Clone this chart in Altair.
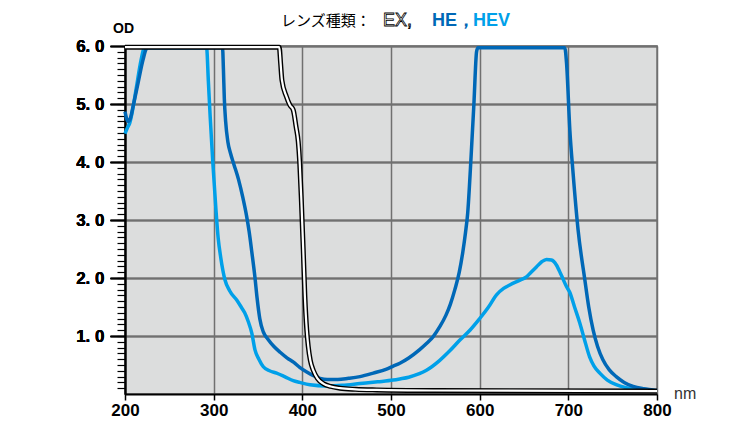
import altair as alt
import pandas as pd

# ---- data ----
ex_nm = [200, 374, 375.5, 377, 382, 386, 389.7, 393, 395.4, 397, 399, 401, 402.9, 405, 406.7,
         409, 412.3, 417, 423.6, 432, 442.4, 460, 483.8, 550, 800]
ex_od = [5.98, 5.98, 5.7, 5.41, 5.13, 4.98, 4.9, 4.6, 4.35, 4.0, 3.3, 2.5, 1.68, 1.1, 0.82,
         0.58, 0.41, 0.27, 0.18, 0.13, 0.10, 0.08, 0.07, 0.06, 0.05]

he_nm = [200, 203.4, 206, 209, 214.7, 220.3, 224, 226, 310, 311, 312, 313.5, 316, 319, 323, 328,
         333, 337, 340, 343, 346.5, 349, 352, 356, 361, 368, 375, 383, 390, 397, 405, 412, 420,
         428, 440, 452, 465, 480, 495, 502.5, 510, 520, 532, 540, 547.6, 555, 562, 567, 572,
         577, 581, 584, 586.5, 590, 593.5, 596.5, 598, 696, 698, 701.7, 705.4, 711,
         718.6, 723, 728, 733, 739, 746, 754, 763, 773, 785, 795.6, 800]
he_od = [4.87, 4.70, 4.75, 4.95, 5.36, 5.76, 5.95, 5.97, 5.97, 5.6, 5.1, 4.7, 4.35, 4.15, 3.95, 3.7,
         3.38, 3.08, 2.8, 2.45, 2.02, 1.65, 1.3, 1.07, 0.95, 0.82, 0.72, 0.62, 0.55, 0.46, 0.38, 0.32, 0.27,
         0.25, 0.25, 0.27, 0.30, 0.36, 0.43, 0.48, 0.53, 0.62, 0.76, 0.87, 0.99, 1.16, 1.36, 1.55, 1.8,
         2.1, 2.45, 2.78, 3.12, 4.0, 5.0, 5.9, 5.97, 5.97, 5.7, 4.55, 3.8, 2.83,
         1.97, 1.5, 1.10, 0.82, 0.59, 0.42, 0.30, 0.20, 0.13, 0.09, 0.07, 0.06]

hev_nm = [200, 203, 205.3, 208, 213, 218, 222, 292, 294, 296, 299, 302.6, 305, 308, 312.7, 318,
          326, 331, 335, 339, 343, 346.6, 351, 356, 363, 371, 380, 389.7, 397, 408.6, 427, 445,
          465, 485, 502.5, 510, 520, 532, 540, 555, 566, 577.7, 589, 600, 610, 619, 627, 634, 645,
          652.8, 658, 664, 670, 675.4, 681, 686.7, 692, 698, 701.7, 707, 713, 718, 724, 729,
          735.5, 744, 754, 765, 777, 790, 800]
hev_od = [4.49, 4.6, 4.67, 4.85, 5.3, 5.75, 5.97, 5.97, 5.4, 4.8, 4.0, 3.17, 2.7, 2.35, 1.97, 1.78,
          1.62, 1.5, 1.40, 1.25, 1.05, 0.76, 0.6, 0.47, 0.40, 0.36, 0.30, 0.23, 0.2, 0.16, 0.14, 0.15,
          0.18, 0.21, 0.24, 0.26, 0.29, 0.35, 0.41, 0.58, 0.74, 0.93, 1.1, 1.30, 1.5, 1.71, 1.82, 1.88, 1.96,
          2.02, 2.1, 2.19, 2.28, 2.32, 2.31, 2.22, 2.05, 1.85, 1.75, 1.5, 1.22, 0.95, 0.64, 0.48,
          0.36, 0.24, 0.16, 0.11, 0.08, 0.06, 0.05]

x_ticks = [200, 300, 400, 500, 600, 700, 800]
y_ticks = [1, 2, 3, 4, 5, 6]
y_minor = [round(i * 0.1, 1) for i in range(1, 60)]

DARK = "#0068b7"
LIGHT = "#00a0e9"

df = pd.concat([
    pd.DataFrame({"series": "EX", "nm": ex_nm, "od": ex_od}),
    pd.DataFrame({"series": "HE", "nm": he_nm, "od": he_od}),
    pd.DataFrame({"series": "HEV", "nm": hev_nm, "od": hev_od}),
])

xscale = alt.Scale(domain=[200, 800], nice=False, zero=False)
yscale = alt.Scale(domain=[0, 6], nice=False)

xaxis = alt.Axis(values=x_ticks, title=None, grid=True, gridColor="#707070", gridWidth=1.5,
                 domainColor="black", domainWidth=2, tickColor="black", tickWidth=1.5,
                 tickSize=6, labelFont="Liberation Sans", labelFontWeight="bold",
                 labelFontSize=17, labelColor="black", labelPadding=2, labelFlush=False)
yaxis = alt.Axis(values=y_ticks, title=None, grid=True, gridColor="#707070", gridWidth=1.5,
                 domainColor="black", domainWidth=1.5, tickColor="black", tickWidth=1.5,
                 tickSize=15, labelFont="Liberation Sans", labelFontWeight="bold",
                 labelFontSize=17, labelColor="black", labelPadding=6, orient="left",
                 labelExpr="replace(format(datum.value, '.1f'), '.', '. ')")
yminor = alt.Axis(values=y_minor, title=None, grid=False, domain=False, labels=False,
                  tickColor="black", tickWidth=1.2, tickSize=8, orient="left")

base = alt.Chart(df).encode(
    x=alt.X("nm:Q", scale=xscale, axis=xaxis),
    y=alt.Y("od:Q", scale=yscale, axis=yaxis),
)

hev = base.transform_filter(alt.datum.series == "HEV").mark_line(
    color=LIGHT, strokeWidth=3.5, interpolate="monotone")
he = base.transform_filter(alt.datum.series == "HE").mark_line(
    color=DARK, strokeWidth=3.5, interpolate="monotone")
ex_o = base.transform_filter(alt.datum.series == "EX").mark_line(
    color="black", strokeWidth=5, interpolate="monotone")
ex_i = base.transform_filter(alt.datum.series == "EX").mark_line(
    color="white", strokeWidth=2.2, interpolate="monotone")

minor = alt.Chart(df).mark_point(opacity=0).encode(
    y=alt.Y("od:Q", scale=yscale, axis=yminor),
)

one = alt.Data(values=[{}])


def txt(text, x, y, color="black", font="Liberation Sans", size=18, weight="normal",
        stroke=None, sw=0, align="left"):
    kw = dict(text=text, align=align, baseline="alphabetic", font=font, fontSize=size,
              fontWeight=weight, fill=color)
    if stroke:
        kw["stroke"] = stroke
        kw["strokeWidth"] = sw
    return alt.Chart(one).mark_text(**kw).encode(x=alt.value(x), y=alt.value(y))


t1 = txt("レンズ種類：", 156, -20, font="Noto Sans CJK JP", size=15)
t2 = txt("EX,", 258, -20, color="white", size=18, stroke="black", sw=0.8)
t3 = txt("HE，", 307, -20, color=DARK, size=18, weight="bold")
t4 = txt("HEV", 348, -20, color=LIGHT, size=18, weight="bold")
t_od = txt("OD", -12, -13, size=14, weight="bold")
t_nm = txt("nm", 549, 353, color="#333333", size=16)

chart = alt.layer(
    minor, hev, he, ex_o, ex_i, t1, t2, t3, t4, t_od, t_nm
).resolve_axis(y="independent").properties(
    width=532, height=348,
    autosize=alt.AutoSizeParams(type="none"),
    padding={"left": 117, "top": 38, "right": 60, "bottom": 35},
).configure_view(
    fill="#dcdddd", stroke="#777777", strokeWidth=1.5
)

chart.save("out.html", embed_options={"renderer": "svg", "actions": False})
